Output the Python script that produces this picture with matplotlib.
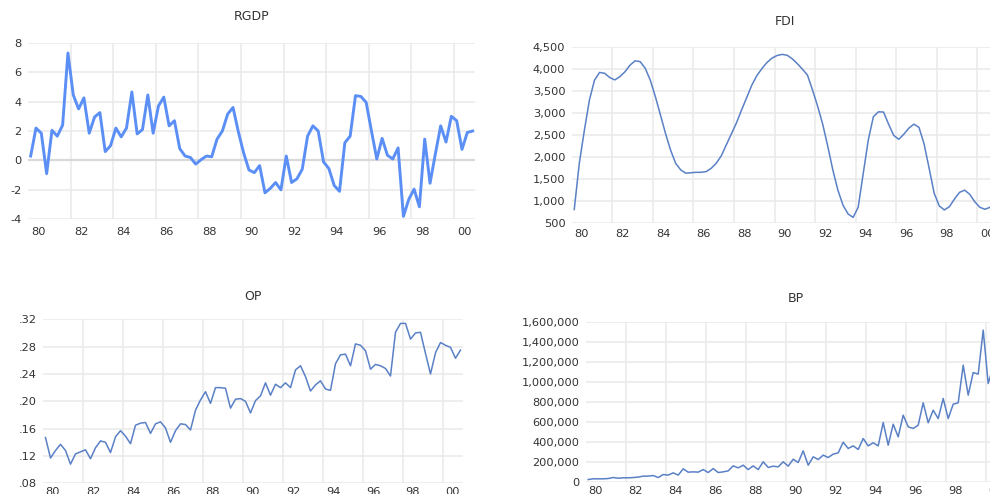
import numpy as np
import matplotlib
matplotlib.use("Agg")
import matplotlib.pyplot as plt
from matplotlib.ticker import FuncFormatter

plt.rcParams['font.family'] = ['DejaVu Sans']

# quarterly series, 1980Q1 onwards
rgdp = [0.3, 2.2, 1.85, -0.9, 2.05, 1.65, 2.4, 7.3, 4.45, 3.5, 4.25, 1.85,
        2.95, 3.25, 0.6, 1.0, 2.2, 1.6, 2.2, 4.65, 1.8, 2.1, 4.45, 1.85,
        3.7, 4.3, 2.35, 2.7, 0.8, 0.3, 0.2, -0.25, 0.05, 0.3, 0.25, 1.45,
        2.0, 3.15, 3.6, 1.95, 0.5, -0.65, -0.83, -0.35, -2.2, -1.9, -1.5, -2.0,
        0.3, -1.5, -1.25, -0.6, 1.65, 2.35, 2.0, -0.1, -0.55, -1.7, -2.1, 1.2,
        1.65, 4.4, 4.35, 3.95, 2.0, 0.1, 1.5, 0.35, 0.1, 0.85, -3.8, -2.65,
        -1.95, -3.15, 1.45, -1.55, 0.45, 2.35, 1.25, 3.0, 2.7, 0.75, 1.9, 2.0]

fdi = [800, 1850, 2600, 3290, 3740, 3915, 3895, 3800, 3745, 3820, 3930, 4080,
       4180, 4160, 4010, 3740, 3365, 2950, 2530, 2150, 1850, 1700, 1625, 1635,
       1645, 1645, 1660, 1735, 1850, 2020, 2270, 2520, 2770, 3060, 3340, 3620,
       3840, 4000, 4140, 4240, 4300, 4325, 4305, 4225, 4115, 3990, 3855, 3515,
       3150, 2740, 2240, 1700, 1240, 900, 700, 620, 850, 1620, 2380, 2910,
       3020, 3015, 2740, 2485, 2395, 2510, 2650, 2740, 2665, 2290, 1735, 1165,
       880, 790, 865, 1040, 1190, 1240, 1145, 975, 850, 805, 850, 900]

op = [0.147, 0.117, 0.128, 0.137, 0.128, 0.108, 0.123, 0.126, 0.129, 0.116, 0.132, 0.142,
      0.140, 0.125, 0.148, 0.157, 0.149, 0.138, 0.165, 0.168, 0.169, 0.153, 0.167, 0.170,
      0.161, 0.140, 0.157, 0.167, 0.166, 0.158, 0.187, 0.202, 0.214, 0.197, 0.220, 0.220,
      0.219, 0.190, 0.203, 0.204, 0.200, 0.183, 0.201, 0.208, 0.227, 0.209, 0.225, 0.220,
      0.227, 0.220, 0.246, 0.252, 0.236, 0.215, 0.224, 0.230, 0.218, 0.216, 0.255, 0.268,
      0.269, 0.252, 0.284, 0.282, 0.274, 0.247, 0.254, 0.252, 0.248, 0.237, 0.301, 0.314,
      0.314, 0.291, 0.300, 0.301, 0.270, 0.240, 0.271, 0.286, 0.282, 0.279, 0.263, 0.275]

bp = [20000, 27000, 27000, 27000, 30000, 40000, 33000, 37000, 37000, 40000, 44000, 54000,
      54000, 60000, 40000, 70000, 64000, 87000, 64000, 127000, 94000, 97000, 94000, 120000,
      90000, 130000, 90000, 97000, 107000, 157000, 137000, 164000, 120000, 157000, 120000, 198000,
      141000, 154000, 147000, 198000, 154000, 224000, 191000, 308000, 164000, 248000, 221000, 265000,
      241000, 275000, 288000, 395000, 332000, 358000, 322000, 432000, 358000, 389000, 358000, 593000,
      365000, 576000, 449000, 667000, 549000, 533000, 566000, 791000, 590000, 717000, 633000, 834000,
      633000, 777000, 791000, 1169000, 868000, 1095000, 1079000, 1521000, 985000, 1150000]

W, H = 990, 494
text_col = '#333333'
grid_col = '#e9e9e9'
line_col = '#5a80c6'


def quarters(values):
    return 1980 + (np.arange(len(values)) + 0.5) / 4


def box(left, right, top, bottom):
    return [left / W, 1 - bottom / H, (right - left) / W, (bottom - top) / H]


def style(ax, yticks, fmt, xpad):
    ax.set_xlim(1980, 2001)
    ax.set_ylim(yticks[0], yticks[-1])
    for s in ax.spines.values():
        s.set_visible(False)
    ax.set_yticks(yticks)
    ax.yaxis.set_major_formatter(FuncFormatter(fmt))
    years = np.arange(1980, 2001, 2)
    ax.set_xticks(years + 0.5)
    ax.set_xticklabels(['%02d' % (y % 100) for y in years])
    ax.set_xticks(years[1:], minor=True)
    ax.tick_params(which='both', length=0, colors=text_col, labelsize=8.2)
    ax.tick_params(axis='x', pad=xpad)
    ax.tick_params(axis='y', pad=4.5)
    ax.grid(True, axis='y', color=grid_col, lw=1.1)
    ax.grid(True, axis='x', which='minor', color=grid_col, lw=1.1)
    ax.grid(False, axis='x', which='major')
    ax.set_axisbelow(True)


def title(x, y, s):
    fig.text(x / W, 1 - y / H, s, ha='center', va='center',
             fontsize=9, color=text_col)


fig = plt.figure(figsize=(W / 100, H / 100), dpi=100)

# RGDP
ax1 = fig.add_axes(box(28, 475.3, 42.7, 219.3))
style(ax1, np.arange(-4, 9, 2), lambda v, p: '%d' % v, 5.5)
ax1.axhline(0, color='#d9d9d9', lw=1.6, zorder=1)
ax1.plot(quarters(rgdp), rgdp, color='#5b8ff5', lw=2.1)
title(251.5, 16.5, 'RGDP')

# FDI
ax2 = fig.add_axes(box(571.7, 997.6, 46.7, 222.7))
style(ax2, np.arange(500, 4501, 500), lambda v, p: '{:,.0f}'.format(v), 4.5)
ax2.plot(quarters(fdi), fdi, color=line_col, lw=1.1)
title(784.5, 21.5, 'FDI')

# OP
ax3 = fig.add_axes(box(43, 463, 319.3, 483.3))
style(ax3, np.arange(0.08, 0.3201, 0.04), lambda v, p: ('%.2f' % v).lstrip('0'), 3)
ax3.plot(quarters(op), op, color=line_col, lw=1.1)
title(253, 296, 'OP')

# BP
ax4 = fig.add_axes(box(585.7, 1005.7, 322.3, 481.5))
style(ax4, np.arange(0, 1600001, 200000), lambda v, p: '{:,.0f}'.format(v), 3)
ax4.plot(quarters(bp), bp, color=line_col, lw=1.1)
title(795.5, 299, 'BP')

fig.savefig('out.png', dpi=100)
